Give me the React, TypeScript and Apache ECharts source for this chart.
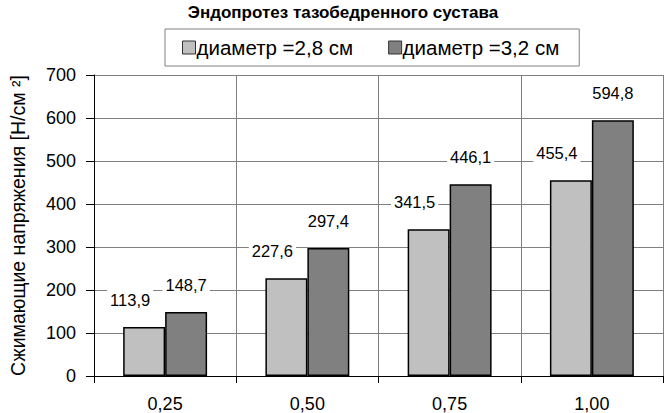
import React, { useEffect, useRef } from "react";
import * as echarts from "echarts";

const categories = ["0,25", "0,50", "0,75", "1,00"];
const series1Name = "диаметр =2,8 см";
const series2Name = "диаметр =3,2 см";
const series1Values = [113.9, 227.6, 341.5, 455.4];
const series2Values = [148.7, 297.4, 446.1, 594.8];
const titleText = "Эндопротез тазобедренного сустава";
const yAxisName = "Сжимающие напряжения [Н/см ²]";

const FONT = "'Liberation Sans', Arial, sans-serif";

const fmt = (v: number) => v.toFixed(1).replace(".", ",");

export default function App() {
  const ref = useRef<HTMLDivElement>(null);
  useEffect(() => {
    document.body.style.margin = "0";
    const chart = echarts.init(ref.current!, null, { renderer: "svg" });
    const labelBase = {
      show: true,
      position: "top" as const,
      distance: 18,
      fontFamily: FONT,
      fontSize: 16.5,
      color: "#000",
      backgroundColor: "#fff",
      padding: [1, 3],
      formatter: (p: any) => fmt(p.value),
    };
    chart.setOption({
      animation: false,
      backgroundColor: "#fff",
      textStyle: { fontFamily: FONT },
      title: {
        text: titleText,
        left: 338,
        textAlign: "center",
        top: -1,
        textStyle: { fontFamily: FONT, fontSize: 17, fontWeight: "bold", color: "#000" },
      },
      legend: {
        top: 29,
        left: 165,
        padding: [8, 20, 8, 17],
        borderColor: "#808080",
        borderWidth: 1,
        itemWidth: 13,
        itemHeight: 13,
        itemGap: 35,
        icon: "rect",
        itemStyle: { borderColor: "#333", borderWidth: 1 },
        textStyle: { fontFamily: FONT, fontSize: 20.5, color: "#000", padding: [0, 0, 0, -4] },
        data: [series1Name, series2Name],
      },
      grid: { left: 90, right: 1, top: 75, bottom: 37, show: false },
      xAxis: {
        type: "category",
        data: categories,
        axisLine: { show: true, lineStyle: { color: "#000", width: 1 } },
        axisTick: { show: true, length: 7, lineStyle: { color: "#000" } },
        splitLine: { show: true, lineStyle: { color: "#808080", width: 1 } },
        axisLabel: { fontFamily: FONT, fontSize: 18, color: "#000", margin: 19 },
      },
      yAxis: {
        type: "value",
        min: 0,
        max: 700,
        interval: 100,
        name: yAxisName,
        nameLocation: "middle",
        nameGap: 66,
        nameTextStyle: { fontFamily: FONT, fontSize: 19.5, color: "#000" },
        axisLine: { show: true, lineStyle: { color: "#000", width: 1 } },
        axisTick: { show: true, length: 8, lineStyle: { color: "#000" } },
        splitLine: { show: true, lineStyle: { color: "#808080", width: 1 } },
        axisLabel: { fontFamily: FONT, fontSize: 18, color: "#000", margin: 18 },
      },
      series: [
        {
          name: series1Name,
          type: "bar",
          data: series1Values,
          barGap: "0%",
          barCategoryGap: "41%",
          itemStyle: { color: "#c0c0c0", borderColor: "#000", borderWidth: 1.5 },
          label: { ...labelBase, offset: [-14, 0] },
        },
        {
          name: series2Name,
          type: "bar",
          data: series2Values,
          barGap: "0%",
          barCategoryGap: "41%",
          itemStyle: { color: "#808080", borderColor: "#000", borderWidth: 1.5 },
          label: { ...labelBase },
        },
      ],
    });
    return () => chart.dispose();
  }, []);
  return <div ref={ref} style={{ width: 664, height: 413 }} />;
}
